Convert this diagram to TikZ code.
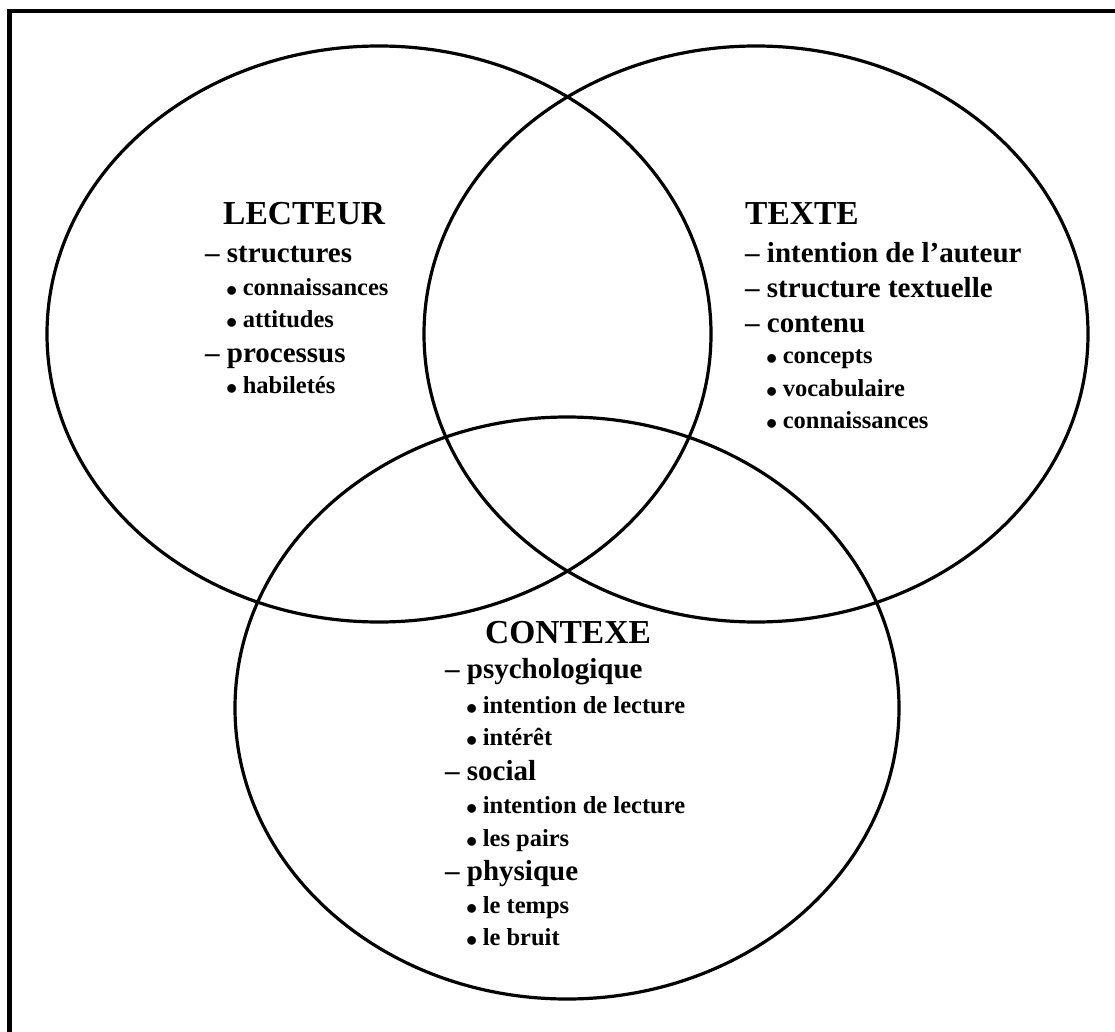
\documentclass[tikz,border=0pt]{standalone}
\usepackage{fontspec}
\setmainfont{Liberation Serif}
\begin{document}
\begin{tikzpicture}[x=1pt,y=-1pt,
  ring/.style={draw=black,line width=3.2pt},
  headtxt/.style={anchor=base west,inner sep=0pt,font=\bfseries\fontsize{33.5}{36}\selectfont},
  maintxt/.style={anchor=base west,inner sep=0pt,font=\bfseries\fontsize{29}{32}\selectfont},
  subtxt/.style={anchor=base west,inner sep=0pt,font=\bfseries\fontsize{24.5}{27}\selectfont}]
\newcommand\bul{\makebox[10.5pt][l]{\fontsize{32}{32}\selectfont\raisebox{-6pt}{•}}}
\useasboundingbox (0,0) rectangle (1115,1032);
% frame (top and left edges)
\draw[line width=4.3pt] (9.5,1040) -- (9.5,11.3) -- (1120,11.3);
% the three sets
\draw[ring] (379,334) ellipse [x radius=332, y radius=288];
\draw[ring] (756,334) ellipse [x radius=332, y radius=288];
\draw[ring] (567,708) ellipse [x radius=332, y radius=291];
% reader
\node[headtxt] (lh) at (223,225) {LECTEUR};
\node[maintxt] (l1) at (205,262) {– structures};
\node[subtxt]  (l2) at (226,295) {\bul\ connaissances};
\node[subtxt]  (l3) at (226,327) {\bul\ attitudes};
\node[maintxt] (l4) at (205,362) {– processus};
\node[subtxt]  (l5) at (226,393) {\bul\ habiletés};
% text
\node[headtxt] (th) at (745,225) {TEXTE};
\node[maintxt] (t1) at (745,262) {– intention de l’auteur};
\node[maintxt] (t2) at (745,297) {– structure textuelle};
\node[maintxt] (t3) at (745,332) {– contenu};
\node[subtxt]  (t4) at (766,363) {\bul\ concepts};
\node[subtxt]  (t5) at (766,396) {\bul\ vocabulaire};
\node[subtxt]  (t6) at (766,428) {\bul\ connaissances};
% context
\node[headtxt] (ch) at (485,643) {CONTEXE};
\node[maintxt] (c1) at (445,678) {– psychologique};
\node[subtxt]  (c2) at (466,713) {\bul\ intention de lecture};
\node[subtxt]  (c3) at (466,745) {\bul\ intérêt};
\node[maintxt] (c4) at (445,780) {– social};
\node[subtxt]  (c5) at (466,813) {\bul\ intention de lecture};
\node[subtxt]  (c6) at (466,846) {\bul\ les pairs};
\node[maintxt] (c7) at (445,880) {– physique};
\node[subtxt]  (c8) at (466,913) {\bul\ le temps};
\node[subtxt]  (c9) at (466,945) {\bul\ le bruit};
\end{tikzpicture}
\end{document}
